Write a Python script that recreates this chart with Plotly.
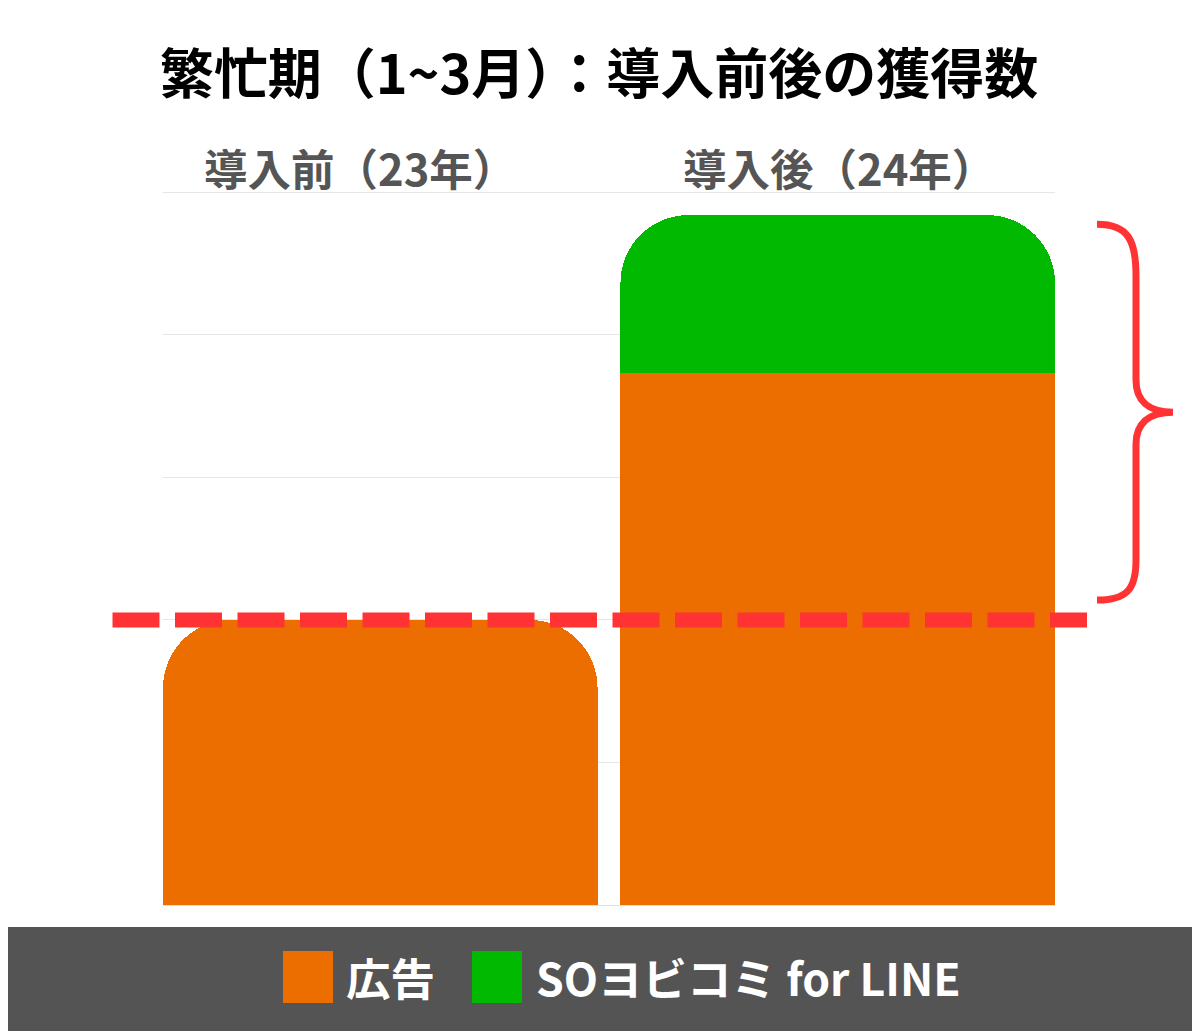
import plotly.graph_objects as go

# data
categories = ['導入前（23年）', '導入後（24年）']
ads = [200, 373]          # 広告
line_app = [None, 111]    # SOヨビコミ for LINE
series_names = ['広告', 'SOヨビコミ for LINE']
title_text = '繁忙期（1~3月）：導入前後の獲得数'

ORANGE = '#EC6D00'
GREEN = '#00B900'
RED = '#FF3333'
FONT = 'Noto Sans CJK JP'

# page is 1200 x 1031, the figure sits 8px in from the page corner (body margin)
W, H = 1200, 1031
OFF = 8
Y_TOP_TICK, Y_MAX = 500, 503
L, R, B = 163, 1055, 905            # plot area in page pixels
T = B - (B - 192) * Y_MAX / Y_TOP_TICK   # keep the 500 gridline at y=192


def px_x(x):
    return (x - L) / (R - L)


def px_y(y):
    return (B - y) / (B - T)


fig = go.Figure()
fig.add_trace(go.Bar(x=categories, y=ads, name=series_names[0],
                     marker=dict(color=ORANGE, line=dict(width=0), cornerradius=68)))
fig.add_trace(go.Bar(x=categories, y=line_app, name=series_names[1],
                     marker=dict(color=GREEN, line=dict(width=0), cornerradius=46)))

# category labels above the plot
label_shift = [-20, 1]
for cat, dx in zip(categories, label_shift):
    fig.add_annotation(x=cat, xref='x', y=px_y(167), yref='paper', text=cat,
                       showarrow=False, xshift=dx, yanchor='middle',
                       font=dict(family=FONT, size=43.5, color='#555555', weight='bold'))

# dashed reference line at last year's level
fig.add_shape(type='line', xref='paper', yref='y',
              x0=px_x(112.5), x1=px_x(1087), y0=ads[0], y1=ads[0],
              line=dict(color=RED, width=15, dash='47px,15.5px'), layer='above')

# curly brace on the right
pts = [('M', [(1097, 224)]),
       ('C', [(1128, 224), (1136, 240), (1136, 275)]),
       ('L', [(1136, 380)]),
       ('C', [(1136, 400), (1148, 412), (1173, 412)]),
       ('C', [(1148, 412), (1136, 424), (1136, 444)]),
       ('L', [(1136, 560)]),
       ('C', [(1136, 590), (1126, 600), (1097, 600)])]
path = ' '.join(cmd + ' ' + ' '.join(f'{px_x(x):.5f},{px_y(y):.5f}' for x, y in p) for cmd, p in pts)
fig.add_shape(type='path', xref='paper', yref='paper', path=path,
              line=dict(color=RED, width=7))

# legend band at the bottom
fig.add_shape(type='rect', xref='paper', yref='paper',
              x0=px_x(-20), x1=px_x(W + 20), y0=px_y(927), y1=px_y(H + 20),
              fillcolor='#545454', line=dict(width=0), layer='below')
legend_items = [(series_names[0], ORANGE, 283, 344), (series_names[1], GREEN, 472, 534)]
for name, color, sx, tx in legend_items:
    fig.add_shape(type='rect', xref='paper', yref='paper',
                  x0=px_x(sx), x1=px_x(sx + 50), y0=px_y(1003), y1=px_y(951),
                  fillcolor=color, line=dict(width=0))
    fig.add_annotation(x=px_x(tx), xref='paper', y=px_y(977), yref='paper', text=name,
                       showarrow=False, xanchor='left', yanchor='middle',
                       font=dict(family=FONT, size=44.5, color='white', weight='bold'))

fig.update_layout(
    width=W, height=H,
    barmode='stack', bargap=0.05,
    showlegend=False,
    title=dict(text=title_text, x=(599 - OFF) / W, xref='container', xanchor='center',
               y=1 - (75 - OFF) / H, yref='container', yanchor='middle',
               font=dict(family=FONT, size=54, color='black', weight='bold')),
    margin=dict(l=L - OFF, r=W - (R - OFF), t=T - OFF, b=H - (B - OFF), pad=0),
    paper_bgcolor='white', plot_bgcolor='white',
    xaxis=dict(range=[-0.475, 1.475], showticklabels=False, showgrid=False,
               zeroline=False, showline=False, ticks=''),
    yaxis=dict(range=[0, Y_MAX], dtick=100, showticklabels=False, showgrid=True,
               gridcolor='#E6E6E6', gridwidth=1, zeroline=True, zerolinecolor='#E0E0E0',
               zerolinewidth=1, showline=False, ticks=''),
)

fig.write_html("out.html")
